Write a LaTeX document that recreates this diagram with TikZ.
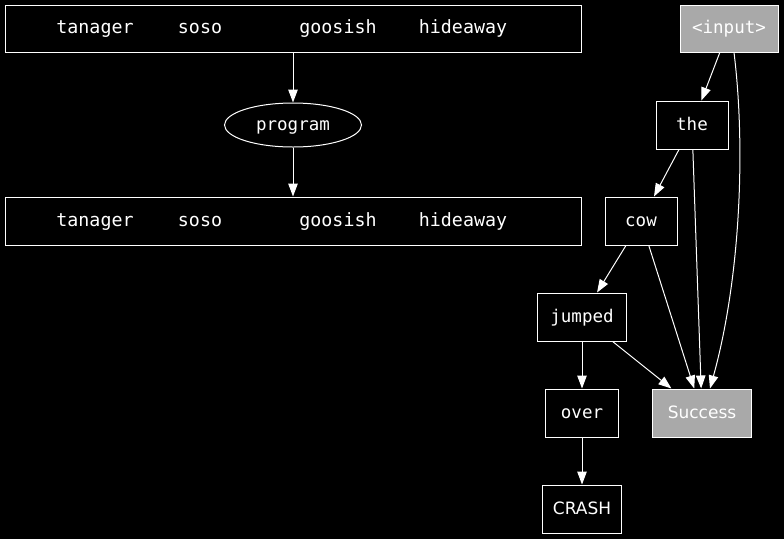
\documentclass[tikz,border=0pt]{standalone}
\usepackage{fontspec}
\setmainfont{DejaVu Sans}
\newfontfamily\monof{DejaVu Sans Mono}
\usetikzlibrary{arrows.meta,shapes.geometric}
\definecolor{boxgray}{HTML}{A9A9A9}
\tikzset{
  mono/.style={font=\monof\fontsize{17.5}{20}\selectfont},
  bigmono/.style={font=\monof\fontsize{18.3}{20}\selectfont},
  sans/.style={font=\fontsize{17}{20}\selectfont},
  box/.style={draw=white,line width=1pt,rectangle,inner sep=0pt,text=white,
    mono,text height=13pt,text depth=3pt},
  graybox/.style={box,fill=boxgray},
  word/.style={text=white,bigmono,inner sep=0pt,text height=13pt,text depth=3pt},
  edge/.style={draw=white,line width=1pt,-{Triangle[length=13pt,width=9.5pt]}}
}
\begin{document}
\begin{tikzpicture}[x=1pt,y=-1pt]
\fill[black] (0,0) rectangle (784,539);
\useasboundingbox (0,0) rectangle (784,539);

% left part
\node[box,minimum width=576pt,minimum height=47pt] (rin) at (293,28.5) {};
\node[word] (w1) at (95,28.5) {tanager};
\node[word] (w2) at (200,28.5) {soso};
\node[word] (w3) at (338,28.5) {goosish};
\node[word] (w4) at (463,28.5) {hideaway};

\node[draw=white,line width=1pt,ellipse,inner sep=0pt,minimum width=137pt,minimum height=44pt,
  text=white,mono,text height=13pt,text depth=3pt] (prog) at (293,125) {program};

\node[box,minimum width=576pt,minimum height=48pt] (rout) at (293,221) {};
\node[word] (v1) at (95,221) {tanager};
\node[word] (v2) at (200,221) {soso};
\node[word] (v3) at (338,221) {goosish};
\node[word] (v4) at (463,221) {hideaway};

\draw[edge] (rin) -- (prog);
\draw[edge] (prog) -- (rout);

% right part
\node[graybox,minimum width=98pt,minimum height=47pt] (input) at (729,28.5) {<input>};
\node[box,minimum width=72pt,minimum height=48pt] (the) at (692,125) {the};
\node[box,minimum width=72pt,minimum height=48pt] (cow) at (641,221) {cow};
\node[box,minimum width=89pt,minimum height=48pt] (jumped) at (582,317) {jumped};
\node[box,minimum width=73pt,minimum height=48pt] (over) at (582,413) {over};
\node[graybox,sans,minimum width=99pt,minimum height=48pt] (success) at (702,413) {Success};
\node[box,sans,minimum width=79pt,minimum height=48pt] (crash) at (582,509) {CRASH};

\draw[edge] (input) -- (the);
\draw[edge] ([xshift=5pt]input.south) .. controls (746,150) and (740,280) .. ([xshift=8pt]success.north);
\draw[edge] (the) -- (cow);
\draw[edge] (the) -- (success);
\draw[edge] (cow) -- (jumped);
\draw[edge] (cow) -- (success);
\draw[edge] (jumped) -- (over);
\draw[edge] (jumped) -- (success);
\draw[edge] (over) -- (crash);
\end{tikzpicture}
\end{document}
